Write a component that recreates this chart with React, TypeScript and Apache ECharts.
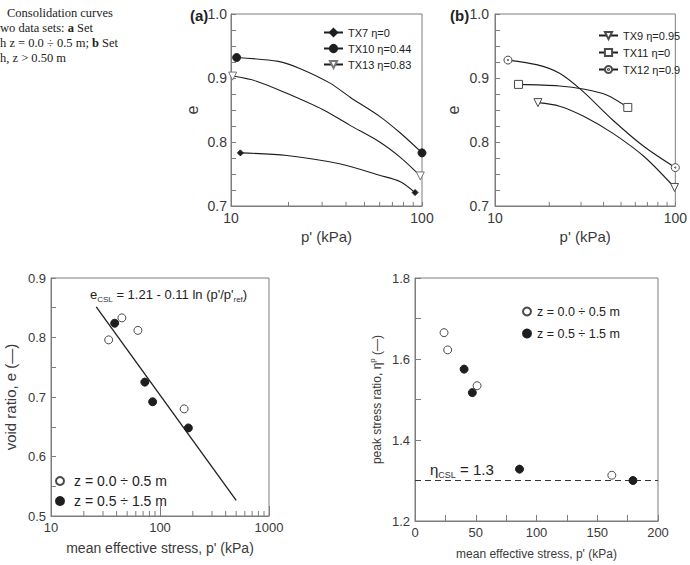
import { useEffect, useRef } from 'react';
import * as echarts from 'echarts';

const SANS = '"Liberation Sans", Arial, Helvetica, sans-serif';
const SERIF = '"Liberation Serif", "Times New Roman", Times, serif';
const AXIS = '#7d7d7d';
const LABEL = '#3a3a3a';
const INK = '#1e1e1e';

// (a) set with z = 0.0 ÷ 0.5 m: mean effective stress p' (kPa) and void ratio e along each path
const tx7P = [11.2, 19.6, 37, 60, 77, 92];
const tx7E = [0.783, 0.779, 0.766, 0.748, 0.738, 0.721];
const tx10P = [10.7, 17.7, 22.9, 33, 42, 60, 77, 100];
const tx10E = [0.932, 0.926, 0.915, 0.892, 0.87, 0.84, 0.814, 0.783];
const tx13P = [10.2, 13.6, 19.6, 30.5, 42, 60, 77, 98];
const tx13E = [0.903, 0.895, 0.876, 0.85, 0.826, 0.8, 0.776, 0.747];

// (b) set with z > 0.50 m
const tx9P = [17.3, 22.8, 31.4, 45.1, 67.3, 99];
const tx9E = [0.8615, 0.856, 0.8395, 0.8135, 0.777, 0.729];
const tx11P = [13.5, 22.8, 31.4, 41.6, 54.5];
const tx11E = [0.89, 0.8876, 0.8824, 0.8735, 0.854];
const tx12P = [11.8, 17.2, 22.8, 30.2, 45.1, 67.3, 100];
const tx12E = [0.928, 0.9205, 0.9075, 0.881, 0.834, 0.7925, 0.76];

// critical state void ratio against mean effective stress
const shallowCsP = [33.8, 44.7, 62.7, 166.5];
const shallowCsE = [0.796, 0.833, 0.812, 0.68];
const deepCsP = [38.4, 72.6, 85.6, 182];
const deepCsE = [0.824, 0.725, 0.692, 0.648];
const cslA = 1.21;
const cslB = 0.11;
const cslRange = [26, 500];

// peak stress ratio against mean effective stress
const shallowPeakP = [23.9, 26.9, 51.1, 162];
const shallowEta = [1.665, 1.6225, 1.534, 1.313];
const deepPeakP = [40.4, 47.2, 86, 179.4];
const deepEta = [1.575, 1.517, 1.328, 1.3];
const etaCsl = 1.3;
const etaRange = [0, 200];

const minorDecade1 = [20, 30, 40, 50, 60, 70, 80, 90];
const minorDecade2 = [20, 30, 40, 50, 60, 70, 80, 90, 200, 300, 400, 500, 600, 700, 800, 900];

// caption lines as they appear at the page's left edge
const captionLines = [
  'Consolidation curves',
  'wo data sets: {b|a} Set',
  'h z = 0.0 ÷ 0.5 m; {b|b} Set',
  'h, z > 0.50 m',
];

const SHALLOW = 'z = 0.0 ÷ 0.5 m';
const DEEP = 'z = 0.5 ÷ 1.5 m';

const TRI_DOWN = 'path://M0,0L10,0L5,9Z';
const CIRCLE_DOT =
  'path://M5,0A5,5 0 1,1 4.999,0ZM5,4.2A0.8,0.8 0 1,1 4.999,4.2Z';

const hollow = { color: '#ffffff', borderColor: '#4a4a4a', borderWidth: 1, opacity: 1 };
const filled = { color: INK, borderColor: INK, borderWidth: 1, opacity: 1 };

function curve(name: string, p: number[], e: number[], gi: number, symbol: string, size: number, style: any) {
  return {
    name,
    type: 'line',
    xAxisIndex: gi,
    yAxisIndex: gi,
    smooth: 0.3,
    symbol,
    symbolSize: size,
    lineStyle: { color: INK, width: 1.1 },
    itemStyle: style,
    z: 3,
    data: p.map((v, i) =>
      i === 0 || i === p.length - 1 ? { value: [v, e[i]] } : { value: [v, e[i]], symbol: 'none' }
    ),
  };
}

function logMinorTicks(gi: number, values: number[], yMin: number, len: number) {
  return {
    type: 'custom',
    xAxisIndex: gi,
    yAxisIndex: gi,
    silent: true,
    z: 4,
    encode: { x: 0, y: 1 },
    data: values.map((v) => [v, yMin]),
    renderItem: (_params: any, api: any) => {
      const pt = api.coord([api.value(0), api.value(1)]);
      return {
        type: 'line',
        shape: { x1: pt[0], y1: pt[1], x2: pt[0], y2: pt[1] - len },
        style: { stroke: AXIS, lineWidth: 1 },
      };
    },
  };
}

function logAxis(gi: number, min: number, max: number, name: string, o: any) {
  return {
    gridIndex: gi,
    type: 'log',
    logBase: 10,
    min,
    max,
    name,
    nameLocation: 'middle',
    nameGap: o.nameGap,
    nameTextStyle: { fontSize: o.nameSize, color: LABEL, fontFamily: SANS },
    axisLine: { lineStyle: { color: AXIS } },
    axisTick: { inside: true, length: o.tick, lineStyle: { color: AXIS } },
    axisLabel: {
      fontSize: o.labelSize,
      color: LABEL,
      margin: o.margin,
      fontFamily: SANS,
      showMinLabel: true,
      showMaxLabel: true,
      formatter: (v: number) => String(Math.round(v)),
    },
    splitLine: { show: false },
  };
}

function valueAxis(gi: number, min: number, max: number, interval: number, minorSplit: number, name: any, o: any) {
  return {
    gridIndex: gi,
    type: 'value',
    min,
    max,
    interval,
    name,
    nameLocation: 'middle',
    nameGap: o.nameGap,
    nameRotate: o.rotate,
    nameTextStyle: { fontSize: o.nameSize, color: LABEL, fontFamily: SANS, lineHeight: 18, rich: o.rich },
    axisLine: { lineStyle: { color: AXIS } },
    axisTick: { inside: true, length: o.tick, lineStyle: { color: AXIS } },
    minorTick: { show: true, splitNumber: minorSplit, length: o.tick, lineStyle: { color: AXIS } },
    axisLabel: {
      fontSize: o.labelSize,
      color: LABEL,
      margin: o.margin,
      fontFamily: SANS,
      showMinLabel: true,
      showMaxLabel: true,
      formatter: o.fmt,
    },
    splitLine: { show: false },
    minorSplitLine: { show: false },
  };
}

const frame = { show: true, borderColor: AXIS, borderWidth: 1, backgroundColor: 'transparent' };

function captionLine(text: string, x: number, y: number) {
  return {
    type: 'text',
    x,
    y,
    silent: true,
    style: {
      text,
      fill: '#222',
      fontFamily: SERIF,
      fontSize: 12.5,
      verticalAlign: 'middle',
      textVerticalAlign: 'middle',
      rich: { b: { fontFamily: SERIF, fontSize: 12.5, fontWeight: 'bold', fill: '#222' } },
    },
  };
}

export default function App() {
  const ref = useRef<HTMLDivElement>(null);

  useEffect(() => {
    if (!ref.current) return;
    const chart = echarts.init(ref.current, undefined, { renderer: 'svg' });

    const sub = { fontSize: 8, lineHeight: 8, verticalAlign: 'bottom', fontFamily: SANS, fill: '#333' };
    const oneDecimal = (v: number) => v.toFixed(1);

    const option: any = {
      animation: false,
      backgroundColor: '#ffffff',
      textStyle: { fontFamily: SANS },
      grid: [
        { left: 231, top: 14, width: 191, height: 192, ...frame },
        { left: 495, top: 14, width: 191, height: 192, ...frame },
        { left: 33, top: 278, width: 236, height: 238, ...frame },
        { left: 415, top: 278, width: 243, height: 243, ...frame },
      ],
      xAxis: [
        logAxis(0, 10, 100, "p' (kPa)", { nameGap: 23, nameSize: 15, tick: 4, labelSize: 14, margin: 5 }),
        logAxis(1, 10, 100, "p' (kPa)", { nameGap: 23, nameSize: 15, tick: 4, labelSize: 14, margin: 5 }),
        logAxis(2, 10, 1000, "mean effective stress, p' (kPa)", { nameGap: 25, nameSize: 14, tick: 10, labelSize: 13, margin: 5 }),
        {
          gridIndex: 3,
          type: 'value',
          min: etaRange[0],
          max: etaRange[1],
          interval: 50,
          name: "mean effective stress, p' (kPa)",
          nameLocation: 'middle',
          nameGap: 27,
          nameTextStyle: { fontSize: 12, color: LABEL, fontFamily: SANS },
          axisLine: { lineStyle: { color: AXIS } },
          axisTick: { inside: true, length: 6, lineStyle: { color: AXIS } },
          minorTick: { show: true, splitNumber: 2, length: 6, lineStyle: { color: AXIS } },
          axisLabel: { fontSize: 13, color: LABEL, margin: 5, fontFamily: SANS },
          splitLine: { show: false },
          minorSplitLine: { show: false },
        },
      ],
      yAxis: [
        valueAxis(0, 0.7, 1.0, 0.1, 4, 'e', { nameGap: 30, rotate: 90, nameSize: 16, tick: 5, labelSize: 14, margin: 4, fmt: oneDecimal }),
        valueAxis(1, 0.7, 1.0, 0.1, 4, 'e', { nameGap: 33, rotate: 90, nameSize: 16, tick: 5, labelSize: 14, margin: 6, fmt: oneDecimal }),
        valueAxis(2, 0.5, 0.9, 0.1, 2, 'void ratio, e (—)', { nameGap: 32, rotate: 90, nameSize: 15, tick: 5, labelSize: 13, margin: 5, fmt: oneDecimal }),
        valueAxis(3, 1.2, 1.8, 0.2, 2, 'peak stress ratio, η{sup|p} (—)', {
          nameGap: 29,
          rotate: 90,
          nameSize: 12,
          tick: 6,
          labelSize: 13,
          margin: 5,
          fmt: oneDecimal,
          rich: { sup: { fontSize: 8, lineHeight: 8, verticalAlign: 'top', color: LABEL, fontFamily: SANS } },
        }),
      ],
      legend: [
        {
          left: 318,
          top: 22,
          orient: 'vertical',
          itemGap: 5,
          itemWidth: 19,
          itemHeight: 9,
          selectedMode: false,
          textStyle: { fontSize: 11, color: '#222', fontFamily: SANS },
          data: ['TX7 η=0', 'TX10 η=0.44', 'TX13 η=0.83'],
        },
        {
          left: 593,
          top: 25,
          orient: 'vertical',
          itemGap: 6,
          itemWidth: 19,
          itemHeight: 9,
          selectedMode: false,
          textStyle: { fontSize: 11, color: '#222', fontFamily: SANS },
          data: ['TX9 η=0.95', 'TX11 η=0', 'TX12 η=0.9'],
        },
        {
          left: 50,
          top: 469,
          orient: 'vertical',
          itemGap: 6,
          itemWidth: 18,
          itemHeight: 8,
          selectedMode: false,
          textStyle: { fontSize: 14, color: '#222', fontFamily: SANS },
          data: [SHALLOW, DEEP],
        },
        {
          left: 517,
          top: 300,
          orient: 'vertical',
          itemGap: 9,
          itemWidth: 10,
          itemHeight: 8,
          selectedMode: false,
          textStyle: { fontSize: 12.5, color: '#222', fontFamily: SANS },
          data: [SHALLOW, DEEP],
        },
      ],
      series: [
        curve('TX7 η=0', tx7P, tx7E, 0, 'diamond', 6, filled),
        curve('TX10 η=0.44', tx10P, tx10E, 0, 'circle', 8, filled),
        curve('TX13 η=0.83', tx13P, tx13E, 0, TRI_DOWN, 8, { ...hollow, borderColor: '#777' }),
        curve('TX9 η=0.95', tx9P, tx9E, 1, TRI_DOWN, 8, hollow),
        curve('TX11 η=0', tx11P, tx11E, 1, 'rect', 8, hollow),
        curve('TX12 η=0.9', tx12P, tx12E, 1, CIRCLE_DOT, 8, hollow),
        logMinorTicks(0, minorDecade1, 0.7, 4),
        logMinorTicks(1, minorDecade1, 0.7, 4),
        logMinorTicks(2, minorDecade2, 0.5, 5),
        {
          name: 'CSL',
          type: 'line',
          xAxisIndex: 2,
          yAxisIndex: 2,
          symbol: 'none',
          lineStyle: { color: INK, width: 1.3 },
          data: cslRange.map((p) => [p, cslA - cslB * Math.log(p)]),
        },
        {
          name: SHALLOW,
          type: 'scatter',
          xAxisIndex: 2,
          yAxisIndex: 2,
          symbol: 'circle',
          symbolSize: 8,
          itemStyle: hollow,
          z: 5,
          data: shallowCsP.map((p, i) => [p, shallowCsE[i]]),
        },
        {
          name: DEEP,
          type: 'scatter',
          xAxisIndex: 2,
          yAxisIndex: 2,
          symbol: 'circle',
          symbolSize: 8,
          itemStyle: filled,
          z: 5,
          data: deepCsP.map((p, i) => [p, deepCsE[i]]),
        },
        {
          name: 'ηCSL',
          type: 'line',
          xAxisIndex: 3,
          yAxisIndex: 3,
          symbol: 'none',
          lineStyle: { color: '#333', width: 1.2, type: [6, 4] },
          data: etaRange.map((p) => [p, etaCsl]),
        },
        {
          name: SHALLOW,
          type: 'scatter',
          xAxisIndex: 3,
          yAxisIndex: 3,
          symbol: 'circle',
          symbolSize: 8,
          itemStyle: hollow,
          z: 5,
          data: shallowPeakP.map((p, i) => [p, shallowEta[i]]),
        },
        {
          name: DEEP,
          type: 'scatter',
          xAxisIndex: 3,
          yAxisIndex: 3,
          symbol: 'circle',
          symbolSize: 8,
          itemStyle: filled,
          z: 5,
          data: deepPeakP.map((p, i) => [p, deepEta[i]]),
        },
      ],
      graphic: [
        captionLine(captionLines[0], 7, 13),
        captionLine(captionLines[1], 0, 27.5),
        captionLine(captionLines[2], 0, 42.5),
        captionLine(captionLines[3], 0, 57.5),
        {
          type: 'text',
          x: 190,
          y: 15,
          silent: true,
          style: { text: '(a)', fontFamily: SANS, fontSize: 15, fontWeight: 'bold', fill: '#222', verticalAlign: 'middle', textVerticalAlign: 'middle' },
        },
        {
          type: 'text',
          x: 450,
          y: 15,
          silent: true,
          style: { text: '(b)', fontFamily: SANS, fontSize: 15, fontWeight: 'bold', fill: '#222', verticalAlign: 'middle', textVerticalAlign: 'middle' },
        },
        {
          type: 'text',
          x: 90,
          y: 294,
          silent: true,
          style: {
            text: `{n|e}{s|CSL}{n| = ${cslA.toFixed(2)} - ${cslB.toFixed(2)} ln (p'/p'}{s|ref}{n|)}`,
            verticalAlign: 'middle',
            textVerticalAlign: 'middle',
            rich: {
              n: { fontSize: 13, lineHeight: 18, fontFamily: SANS, fill: '#222' },
              s: sub,
            },
          },
        },
        {
          type: 'text',
          x: 430,
          y: 469,
          silent: true,
          style: {
            text: `{g|η}{s|CSL}{g| = ${etaCsl.toFixed(1)}}`,
            verticalAlign: 'middle',
            textVerticalAlign: 'middle',
            rich: {
              g: { fontSize: 15, lineHeight: 20, fontFamily: SANS, fill: '#222' },
              s: { ...sub, fontSize: 9, lineHeight: 9 },
            },
          },
        },
      ],
    };

    chart.setOption(option);
    return () => chart.dispose();
  }, []);

  return (
    <div
      ref={ref}
      style={{ position: 'fixed', left: 0, top: 0, width: 690, height: 565, background: '#fff' }}
    />
  );
}
